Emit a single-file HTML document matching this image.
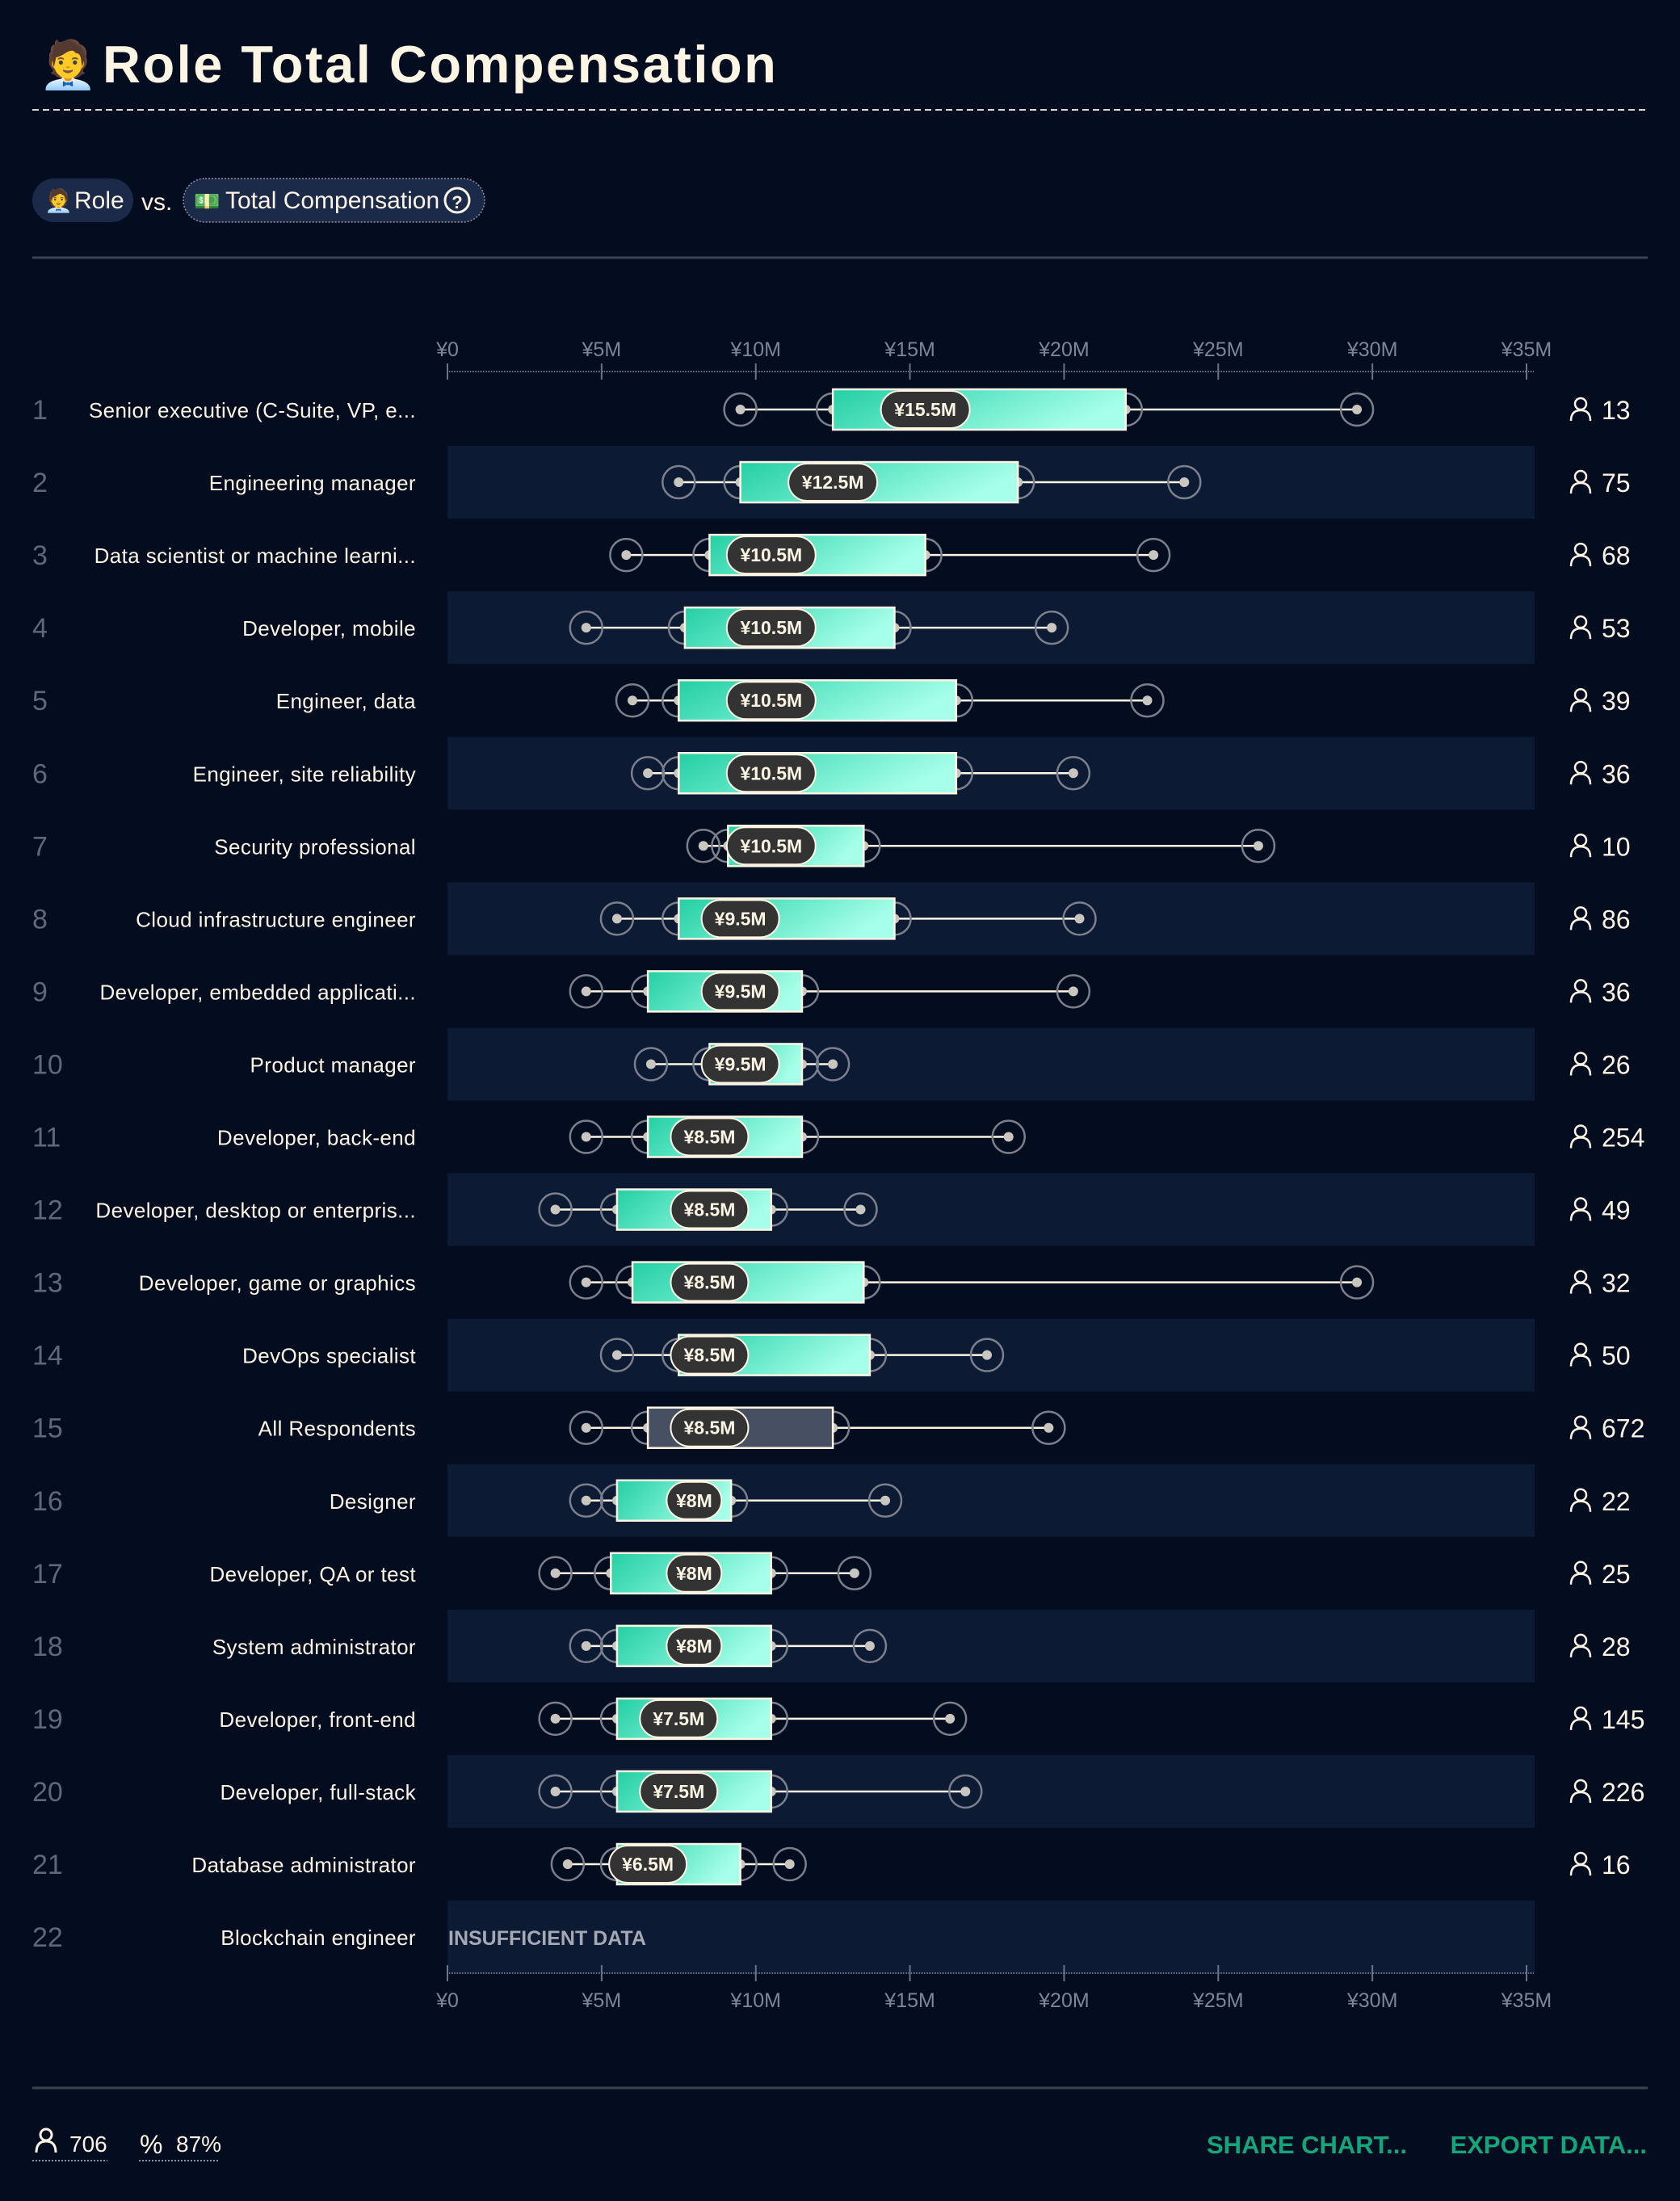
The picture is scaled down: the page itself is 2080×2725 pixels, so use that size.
<!DOCTYPE html>
<html><head><meta charset="utf-8">
<style>
html,body{margin:0;padding:0;background:#040c1f;}
body{width:2080px;height:2720px;overflow:hidden;font-family:"Liberation Sans","Noto Sans CJK JP",sans-serif;}
svg text{font-family:"Liberation Sans","Noto Sans CJK JP",sans-serif;}
</style></head>
<body>
<svg id="chart" width="2080" height="2720" xmlns="http://www.w3.org/2000/svg">
<defs>
<linearGradient id="boxg" x1="0" y1="0" x2="1" y2="0.3">
<stop offset="0" stop-color="#24cfa4"/><stop offset="0.35" stop-color="#4fe0bd"/><stop offset="1" stop-color="#a6ffe8"/>
</linearGradient>
</defs>
<rect width="2080" height="2720" fill="#040c1f"/>
<text x="48" y="100" font-size="58">🧑‍💼</text>
<text x="127" y="102" font-size="65" font-weight="bold" fill="#fdf5e4" letter-spacing="2.5">Role Total Compensation</text>
<line x1="40" y1="136" x2="2040" y2="136" stroke="#d8d8d8" stroke-width="2" stroke-dasharray="8,5"/>
<g>
<rect x="40" y="221" width="125" height="54" rx="27" fill="#1b2a48"/>
<text x="55" y="258" font-size="28">🧑‍💼</text>
<text x="92" y="258" font-size="30" fill="#fdf5e4">Role</text>
</g>
<text x="175" y="260" font-size="30" fill="#fdf5e4">vs.</text>
<g>
<rect x="227" y="221" width="373" height="54" rx="27" fill="#1b2a48" stroke="#8a93a6" stroke-width="1.5" stroke-dasharray="2,2"/>
<text x="240" y="258" font-size="26">💵</text>
<text x="279" y="258" font-size="30" fill="#fdf5e4">Total Compensation</text>
<circle cx="566" cy="248" r="15" fill="none" stroke="#fdf5e4" stroke-width="3"/>
<text x="566" y="258" font-size="22" font-weight="bold" fill="#fdf5e4" text-anchor="middle">?</text>
</g>
<line x1="40" y1="319" x2="2040" y2="319" stroke="#3a4252" stroke-width="3"/>
<g id="plot"></g>
<line x1="40" y1="2585" x2="2040" y2="2585" stroke="#3a4252" stroke-width="3"/>
<g>
<circle cx="57" cy="2643" r="7" fill="none" stroke="#fdf5e4" stroke-width="3"/>
<path d="M45 2665 q0 -14 12 -14 q12 0 12 14" fill="none" stroke="#fdf5e4" stroke-width="3"/>
<text x="86" y="2664" font-size="28" fill="#fdf5e4">706</text>
<line x1="40" y1="2675" x2="133" y2="2675" stroke="#8a93a6" stroke-width="2" stroke-dasharray="2,2"/>
</g>
<g>
<text x="173" y="2666" font-size="32" fill="#fdf5e4">%</text>
<text x="218" y="2664" font-size="28" fill="#fdf5e4">87%</text>
<line x1="172" y1="2675" x2="272" y2="2675" stroke="#8a93a6" stroke-width="2" stroke-dasharray="2,2"/>
</g>
<text x="1494" y="2666" font-size="31" font-weight="bold" fill="#12a67a">SHARE CHART...</text>
<text x="2039" y="2666" font-size="31" font-weight="bold" fill="#12a67a" text-anchor="end">EXPORT DATA...</text>
</svg>
<script>
const roles = ["Senior executive (C-Suite, VP, e...","Engineering manager","Data scientist or machine learni...","Developer, mobile","Engineer, data","Engineer, site reliability","Security professional","Cloud infrastructure engineer","Developer, embedded applicati...","Product manager","Developer, back-end","Developer, desktop or enterpris...","Developer, game or graphics","DevOps specialist","All Respondents","Designer","Developer, QA or test","System administrator","Developer, front-end","Developer, full-stack","Database administrator","Blockchain engineer"];
const lowVals = [9.5,7.5,5.8,4.5,6,6.5,8.3,5.5,4.5,6.6,4.5,3.5,4.5,5.5,4.5,4.5,3.5,4.5,3.5,3.5,3.9,null];
const q1Vals = [12.5,9.5,8.5,7.7,7.5,7.5,9.1,7.5,6.5,8.5,6.5,5.5,6,7.5,6.5,5.5,5.3,5.5,5.5,5.5,5.5,null];
const medianVals = [15.5,12.5,10.5,10.5,10.5,10.5,10.5,9.5,9.5,9.5,8.5,8.5,8.5,8.5,8.5,8,8,8,7.5,7.5,6.5,null];
const q3Vals = [22,18.5,15.5,14.5,16.5,16.5,13.5,14.5,11.5,11.5,11.5,10.5,13.5,13.7,12.5,9.2,10.5,10.5,10.5,10.5,9.5,null];
const highVals = [29.5,23.9,22.9,19.6,22.7,20.3,26.3,20.5,20.3,12.5,18.2,13.4,29.5,17.5,19.5,14.2,13.2,13.7,16.3,16.8,11.1,null];
const counts = [13,75,68,53,39,36,10,86,36,26,254,49,32,50,672,22,25,28,145,226,16,null];
const medianLabels = ["¥15.5M","¥12.5M","¥10.5M","¥10.5M","¥10.5M","¥10.5M","¥10.5M","¥9.5M","¥9.5M","¥9.5M","¥8.5M","¥8.5M","¥8.5M","¥8.5M","¥8.5M","¥8M","¥8M","¥8M","¥7.5M","¥7.5M","¥6.5M",""];
const tickVals = [0,5,10,15,20,25,30,35];
const tickLabels = ["¥0","¥5M","¥10M","¥15M","¥20M","¥25M","¥30M","¥35M"];

const NS="http://www.w3.org/2000/svg";
const plot=document.getElementById('plot');
const X0=554, X1=1890, VMAX=35;
const xs=v=>X0+(v/VMAX)*(X1-X0);
const ROW0=507, ROWH=90.05;
const ys=i=>ROW0+i*ROWH;
function mk(tag,attrs,parent){const e=document.createElementNS(NS,tag);for(const k in attrs)e.setAttribute(k,attrs[k]);(parent||plot).appendChild(e);return e;}

roles.forEach((r,i)=>{ if(i%2===1){const b=mk('rect',{x:554,y:ys(i)-45,width:1346,height:90,fill:'#0d1a34'});

}});

function axis(yLine,yLab,down){
  const g=mk('g',{});
  
  
  mk('line',{x1:X0,y1:yLine,x2:1900,y2:yLine,stroke:'#6b7385','stroke-width':2,'stroke-dasharray':'1,1'},g);
  tickVals.forEach((v,k)=>{
    mk('line',{x1:xs(v),y1:yLine-10,x2:xs(v),y2:yLine+10,stroke:'#6b7385','stroke-width':2},g);
    const t=mk('text',{x:xs(v),y:yLab,'font-size':25,fill:'#7d8599','text-anchor':'middle'},g);
    
    
    t.textContent=tickLabels[k];
  });
}
axis(460,441,false);
axis(2443,2485,true);

roles.forEach((r,i)=>{
  const y=ys(i);
  const g=mk('g',{});
  
  
  const n=mk('text',{x:40,y:y+12,'font-size':34,fill:'#5f6779'},g);
  
  
  n.textContent=i+1;
  const l=mk('text',{x:515,y:y+10,'font-size':26,fill:'#fdf5e4','text-anchor':'end','letter-spacing':'0.4'},g);
  
  
  l.textContent=r;
  if(lowVals[i]===null){
    const t=mk('text',{x:555,y:y+10,'font-size':25,'font-weight':'bold',fill:'#a4a9b4'},g);
    
    
    t.textContent='INSUFFICIENT DATA';
    return;
  }
  const wl=mk('line',{x1:xs(lowVals[i]),y1:y,x2:xs(highVals[i]),y2:y,stroke:'#fdf5e4','stroke-width':2.5},g);
  
  
  [lowVals[i],q1Vals[i],q3Vals[i],highVals[i]].forEach(v=>{
    const c=mk('circle',{cx:xs(v),cy:y,r:20,fill:'none',stroke:'#7b808c','stroke-width':2.5},g);
    
    
    const d=mk('circle',{cx:xs(v),cy:y,r:6,fill:'#c9c6c0'},g);
    
    
  });
  const all=r==='All Respondents';
  const bx=mk('rect',{x:xs(q1Vals[i]),y:y-25,width:xs(q3Vals[i])-xs(q1Vals[i]),height:50,fill:all?'#475062':'url(#boxg)',stroke:'#fdf5e4','stroke-width':2.5},g);
  
  
  const w=medianLabels[i].length*14+26;
  const p=mk('rect',{x:xs(medianVals[i])-w/2,y:y-23,width:w,height:46,rx:23,fill:'#333333',stroke:'#fdf5e4','stroke-width':2},g);
  
  
  const mt=mk('text',{x:xs(medianVals[i]),y:y+8,'font-size':23,'font-weight':'bold',fill:'#fdf5e4','text-anchor':'middle'},g);
  
  
  mt.textContent=medianLabels[i];
  const ic=mk('g',{},g);
  
  
  mk('circle',{cx:1957,cy:y-7,r:7,fill:'none',stroke:'#fdf5e4','stroke-width':2.5},ic);
  mk('path',{d:`M1945 ${y+14} q0 -13 12 -13 q12 0 12 13`,fill:'none',stroke:'#fdf5e4','stroke-width':2.5},ic);
  const ct=mk('text',{x:1983,y:y+12,'font-size':32,fill:'#fdf5e4'},g);
  
  
  ct.textContent=counts[i];
});
</script>
</body></html>
